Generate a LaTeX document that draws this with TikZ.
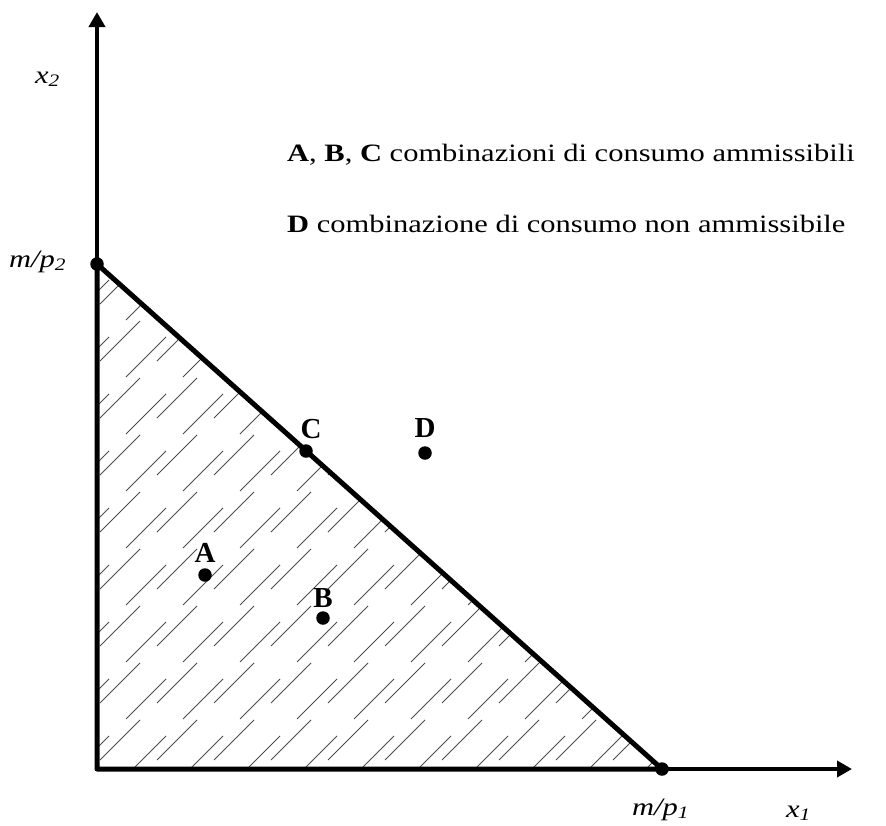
\documentclass[tikz,border=0pt]{standalone}
\usepackage{fontspec}
\setmainfont{Liberation Serif}[FakeStretch=1.22]
\newfontfamily\ptfont{Liberation Serif}
\usetikzlibrary{arrows.meta,positioning}

\begin{document}
\begin{tikzpicture}[
    x=1pt, y=-1pt,
    every node/.style={font=\fontsize{25}{30}\selectfont},
    axis/.style={line width=4pt, {Triangle[length=15pt,width=16pt]}-{Triangle[length=15pt,width=16pt]}},
    budget/.style={line width=5pt, line join=round},
    hatch/.style={line width=1pt, black!70, dash pattern=on 56.6pt off 24pt},
    dot/.style={circle, fill, inner sep=0pt, minimum size=13.5pt},
    ptlabel/.style={inner sep=0pt, font=\ptfont\fontsize{29}{34}\selectfont\bfseries},
    axlabel/.style={inner sep=0pt, anchor=base west, font=\fontsize{25}{30}\selectfont\itshape},
    legend/.style={inner sep=0pt, anchor=base west},
]
\useasboundingbox (0,0) rectangle (886,825);
\coordinate (O) at (97,769);
\coordinate (ytop) at (97,12);
\coordinate (xend) at (852,769);
\node[dot] (mp2) at (97,264) {};
\node[dot] (mp1) at (662,769) {};

% insieme di bilancio tratteggiato
\begin{scope}
  \clip (O) -- (mp2.center) -- (mp1.center) -- cycle;
  \foreach \c in {332,389,...,1480}{
    \draw[hatch, dash phase=46.6pt] ({\c-800},800) -- ({\c-200},200);
    \draw[hatch, dash phase=24pt] ({\c+15-800},800) -- ({\c+15-200},200);
  }
\end{scope}

\draw[axis] (ytop) -- (O) -- (xend);
\draw[budget] (mp2.center) -- (mp1.center) -- (O) -- cycle;

% panieri
\node[dot] (A) at (205,575) {};
\node[dot] (B) at (323,618) {};
\node[dot] (C) at (306,451) {};
\node[dot] (D) at (425,453) {};
\node[ptlabel, above=5pt of A] (labA) {A};
\node[ptlabel, above=3pt of B] (labB) {B};
\node[ptlabel, above=5pt of C, xshift=5pt] (labC) {C};
\node[ptlabel, above=8pt of D] (labD) {D};

% etichette assi
\node[axlabel] (labx2) at (35,83) {x\textsubscript{2}};
\node[axlabel] (labmp2) at (9,267) {m/p\textsubscript{2}};
\node[axlabel] (labmp1) at (632,815) {m/p\textsubscript{1}};
\node[axlabel] (labx1) at (786,817) {x\textsubscript{1}};

\node[legend] (legABC) at (287,161) {\textbf{A}, \textbf{B}, \textbf{C} combinazioni di consumo ammissibili};
\node[legend] (legD) at (287,232) {\textbf{D} combinazione di consumo non ammissibile};
\end{tikzpicture}
\end{document}
